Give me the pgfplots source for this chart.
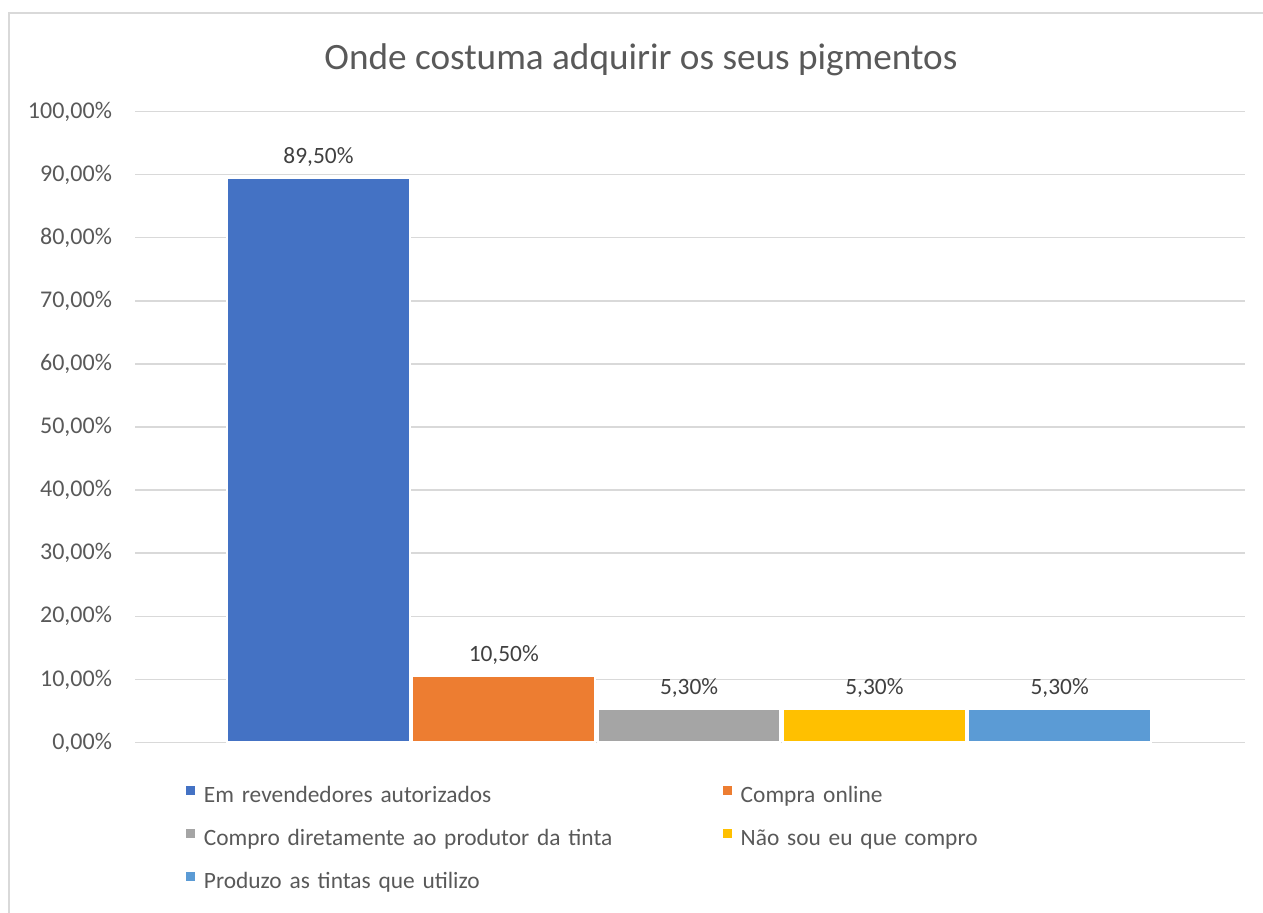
\documentclass[border=0pt]{standalone}
\usepackage{pgfplots}
\pgfplotsset{compat=1.18}
\usepackage{fontspec}
\setmainfont{Carlito}
\definecolor{c1}{HTML}{4472C4}
\definecolor{c2}{HTML}{ED7D31}
\definecolor{c3}{HTML}{A5A5A5}
\definecolor{c4}{HTML}{FFC000}
\definecolor{c5}{HTML}{5B9BD5}
\definecolor{tc}{HTML}{595959}
\definecolor{lc}{HTML}{404040}
\definecolor{gc}{HTML}{D9D9D9}
\newcommand{\sz}{\fontsize{11.7}{14}\selectfont}
\begin{document}
\begin{tikzpicture}
\path[use as bounding box] (0pt,0pt) rectangle (631.5pt,456.5pt);
\draw[gc, line width=1pt] (4.5pt,0pt) -- (4.5pt,450pt) -- (631.5pt,450pt);
\node[text=tc, font=\fontsize{18.6}{22}\selectfont] at (320.5pt,426.5pt) {Onde costuma adquirir os seus pigmentos};
\begin{axis}[
  at={(67.5pt,85.25pt)}, anchor=south west, scale only axis,
  width=555pt, height=315.5pt,
  xmin=-0.99, xmax=5.0, ymin=0, ymax=100,
  ytick={0,10,...,100},
  ymajorgrids, grid style={gc, line width=0.75pt},
  xtick=\empty,
  axis line style={draw=none},
  major tick length=0pt,
  /pgf/number format/assume math mode=true,
  yticklabel={\pgfmathprintnumber[fixed,fixed zerofill,precision=2,use comma]{\tick}\%},
  ticklabel style={font=\fontsize{12}{14}\selectfont, text=tc},
  yticklabel style={xshift=-8pt},
  ybar, bar shift=0pt, bar width=0.9865,
  nodes near coords={\pgfmathprintnumber[fixed,fixed zerofill,precision=2,use comma]{\pgfplotspointmeta}\%},
  nodes near coords style={font=\sz, text=lc, anchor=south, yshift=2pt},
  legend columns=2,
  legend cell align=left,
  legend image code/.code={\fill[#1,draw=none] (0pt,0.5pt) rectangle (4.4pt,4.9pt);},
  legend style={draw=none, fill=none, at={(0.0457,-0.067)}, anchor=north west,
    font=\sz, text=tc, inner sep=0pt, row sep=10.5pt,
    /tikz/every odd column/.append style={column sep=4.5pt},
    nodes={inner sep=0pt, text height=8.5pt, text depth=2.5pt, text width=259.5pt, align=left}},
]
\addplot[fill=c1, draw=white, line width=1pt] coordinates {(0,89.5)};
\addplot[fill=c2, draw=white, line width=1pt] coordinates {(1,10.5)};
\addplot[fill=c3, draw=white, line width=1pt] coordinates {(2,5.3)};
\addplot[fill=c4, draw=white, line width=1pt] coordinates {(3,5.3)};
\addplot[fill=c5, draw=white, line width=1pt] coordinates {(4,5.3)};
\legend{Em revendedores autorizados, Compra online, Compro diretamente ao produtor da tinta, Não sou eu que compro, Produzo as tintas que utilizo}
\end{axis}
\end{tikzpicture}
\end{document}
